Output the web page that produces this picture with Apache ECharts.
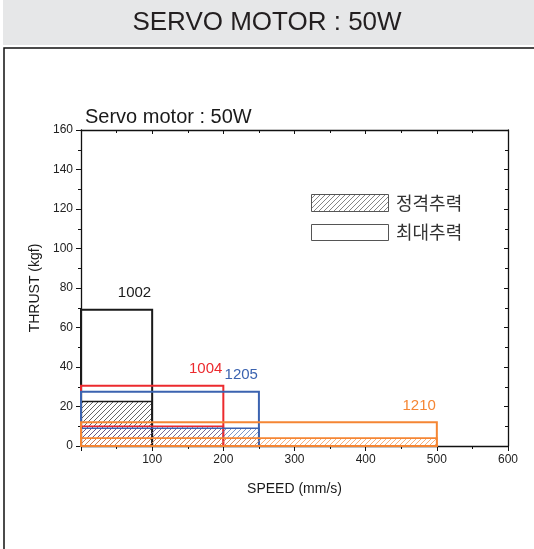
<!DOCTYPE html>
<html>
<head>
<meta charset="utf-8">
<script src="https://cdn.jsdelivr.net/npm/echarts@6/dist/echarts.min.js"></script>
<style>
  html, body { margin: 0; padding: 0; background: #fff; }
  #chart { width: 534px; height: 549px; }
</style>
</head>
<body>
<div id="chart"></div>
<script>
// 모델별 데이터
const models = ['1002', '1004', '1205', '1210']
const maxSpeed = [100, 200, 250, 500]        // mm/s
const ratedThrust = [22.5, 10, 9, 4]          // 정격추력 kgf
const maxThrust = [69, 30.5, 27.5, 12]        // 최대추력 kgf
const xTicks = [0, 100, 200, 300, 400, 500, 600]
const yTicks = [0, 20, 40, 60, 80, 100, 120, 140, 160]
const legendNames = ['정격추력', '최대추력']

const colors = ['#1a1a1a', '#ec2a2e', '#3b63b0', '#f58634']
const FONT = 'Liberation Sans, Arial, sans-serif'
const KFONT = 'Noto Sans CJK KR, sans-serif'

// 빗금 패턴
const makeHatch = (color, alpha) => {
  const c = document.createElement('canvas')
  const s = 5
  c.width = s
  c.height = s
  const ctx = c.getContext('2d')
  ctx.strokeStyle = color
  ctx.globalAlpha = alpha
  ctx.lineWidth = 0.9
  ctx.beginPath()
  ctx.moveTo(0, s); ctx.lineTo(s, 0)
  ctx.moveTo(-1, 1); ctx.lineTo(1, -1)
  ctx.moveTo(s - 1, s + 1); ctx.lineTo(s + 1, s - 1)
  ctx.stroke()
  return { image: c, repeat: 'repeat' }
}
const hatches = colors.map(c => makeHatch(c, 0.75))
const legendHatch = makeHatch('#555', 0.8)

const chart = echarts.init(document.getElementById('chart'))

const axisLine = { show: true, onZero: false, lineStyle: { color: '#111', width: 1.3 } }
const tickStyle = { color: '#111', width: 1 }

chart.setOption({
  animation: false,
  backgroundColor: '#fff',
  grid: { left: 81, right: 26, top: 130, bottom: 103 },
  title: {
    text: 'Servo motor : 50W',
    left: 80, top: 102,
    textStyle: { fontFamily: FONT, fontSize: 20, fontWeight: 'normal', color: '#1a1a1a' }
  },
  xAxis: [{
    type: 'value',
    min: xTicks[0], max: xTicks[xTicks.length - 1], interval: 100,
    name: 'SPEED (mm/s)', nameLocation: 'middle', nameGap: 36,
    nameTextStyle: { fontFamily: FONT, fontSize: 14, color: '#1a1a1a' },
    axisLine,
    axisTick: { show: true, length: 5, lineStyle: tickStyle },
    minorTick: { show: true, splitNumber: 2, length: 3, lineStyle: tickStyle },
    splitLine: { show: false },
    axisLabel: {
      fontFamily: FONT, fontSize: 12, color: '#222', margin: 8,
      formatter: v => (v === 0 ? '' : String(v))
    }
  }, {
    type: 'value', position: 'top',
    min: xTicks[0], max: xTicks[xTicks.length - 1], interval: 100,
    axisLine,
    axisTick: { show: true, inside: true, length: 4, lineStyle: tickStyle },
    minorTick: { show: true, splitNumber: 2, length: 3, lineStyle: tickStyle },
    splitLine: { show: false },
    axisLabel: { show: false }
  }],
  yAxis: [{
    type: 'value',
    min: yTicks[0], max: yTicks[yTicks.length - 1], interval: 20,
    name: 'THRUST (kgf)', nameLocation: 'middle', nameGap: 38,
    nameTextStyle: { fontFamily: FONT, fontSize: 14, color: '#1a1a1a' },
    axisLine,
    axisTick: { show: true, length: 5, lineStyle: tickStyle },
    minorTick: { show: true, splitNumber: 2, length: 3, lineStyle: tickStyle },
    splitLine: { show: false },
    axisLabel: { fontFamily: FONT, fontSize: 12, color: '#222', margin: 8 }
  }, {
    type: 'value', position: 'right',
    min: yTicks[0], max: yTicks[yTicks.length - 1], interval: 20,
    axisLine,
    axisTick: { show: true, inside: true, length: 4, lineStyle: tickStyle },
    minorTick: { show: true, splitNumber: 2, length: 3, lineStyle: tickStyle },
    splitLine: { show: false },
    axisLabel: { show: false }
  }],
  graphic: [
    // 상단 헤더
    { type: 'rect', left: 3, top: 0, shape: { width: 531, height: 45 }, style: { fill: '#e6e7e8' } },
    {
      type: 'text', x: 267, y: 23,
      style: { text: 'SERVO MOTOR : 50W', font: '26px ' + FONT, fill: '#231f20', align: 'center', verticalAlign: 'middle' }
    },
    {
      type: 'polyline',
      shape: { points: [[4, 549], [4, 48], [534, 48]] },
      style: { stroke: '#111', lineWidth: 1.5, fill: null }
    },
    // 범례
    { type: 'rect', shape: { x: 311.5, y: 194.5, width: 77, height: 17 }, style: { fill: legendHatch, stroke: '#555', lineWidth: 1 } },
    { type: 'text', x: 396, y: 203, style: { text: legendNames[0], font: '18px ' + KFONT, fill: '#333', verticalAlign: 'middle' } },
    { type: 'rect', shape: { x: 311.5, y: 224.5, width: 77, height: 16 }, style: { fill: '#fff', stroke: '#555', lineWidth: 1 } },
    { type: 'text', x: 396, y: 232, style: { text: legendNames[1], font: '18px ' + KFONT, fill: '#333', verticalAlign: 'middle' } }
  ],
  series: [{
    type: 'custom',
    clip: false,
    data: models.map((m, i) => [maxSpeed[i], ratedThrust[i], maxThrust[i]]),
    renderItem: (params, api) => {
      const i = params.dataIndex
      const p0 = api.coord([0, 0])
      const pR = api.coord([api.value(0), api.value(1)])
      const pM = api.coord([api.value(0), api.value(2)])
      return {
        type: 'group',
        children: [{
          type: 'rect',
          shape: { x: p0[0], y: pR[1], width: pR[0] - p0[0], height: p0[1] - pR[1] },
          style: { fill: hatches[i], stroke: colors[i], lineWidth: 1.6 }
        }, {
          type: 'rect',
          shape: { x: p0[0], y: pM[1], width: pM[0] - p0[0], height: p0[1] - pM[1] },
          style: { fill: 'none', stroke: colors[i], lineWidth: 2 }
        }, {
          type: 'text',
          x: pM[0] - 1, y: pM[1] - 9,
          style: { text: models[i], font: '15px ' + FONT, fill: colors[i], align: 'right', verticalAlign: 'bottom' }
        }]
      }
    }
  }]
})
</script>
</body>
</html>
